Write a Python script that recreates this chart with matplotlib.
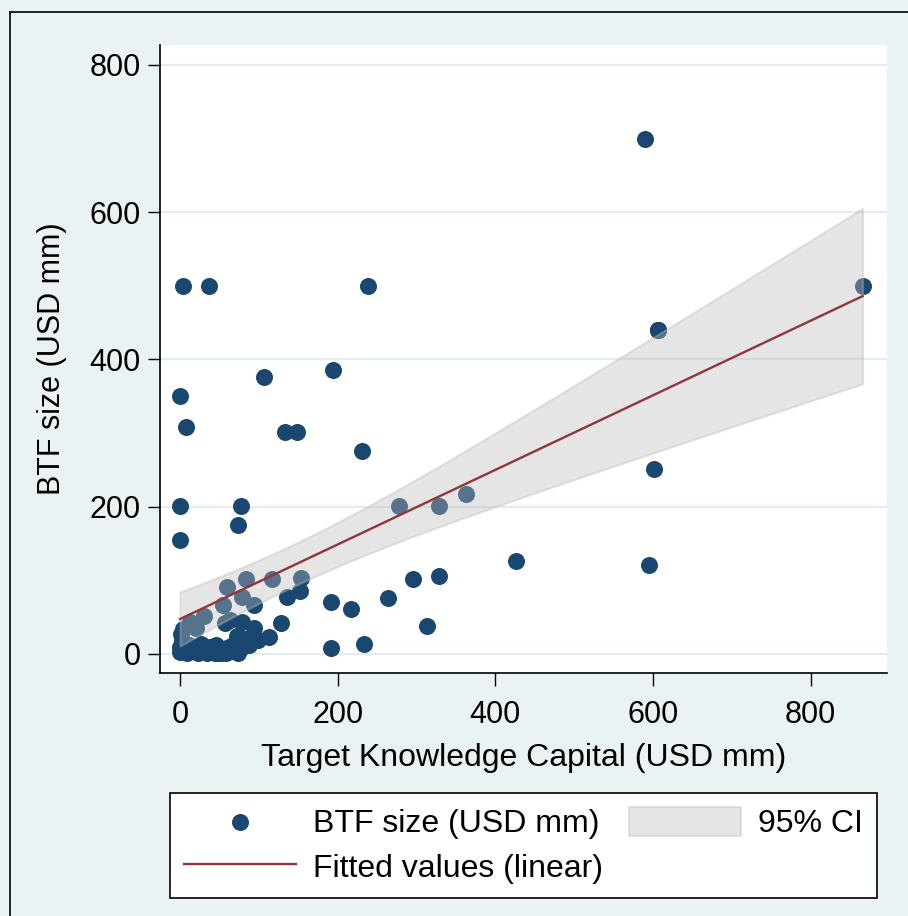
import matplotlib.pyplot as plt
import numpy as np
from matplotlib.lines import Line2D

plt.rcParams['font.family'] = ['Liberation Sans', 'DejaVu Sans']

# knowledge capital (x) and BTF size (y), USD mm
# (the two repeats of 606/440 are assumed hidden overlaps)
kc_outer = [590, 866, 606, 606, 606, 601, 595, 426, 363, 328, 278, 328, 295,
            264, 313, 234, 217, 192, 192, 231, 153, 152, 4, 37, 239, 194,
            107, 0, 8, 133, 148, 0, 77, 74, 0]
btf_outer = [700, 500, 440, 440, 440, 251, 121, 126, 217, 201, 201, 106, 102,
             76, 38, 14, 61, 71, 8, 276, 103, 86, 500, 500, 500, 386,
             376, 350, 308, 301, 301, 201, 201, 175, 155]
kc_cluster = [13, 31, 54, 59, 84, 117, 79, 20,
              57, 79, 94, 113, 128, 94, 136, 63, 99,
              0, 0, 2, 1, 4, 6, 9, 12, 15, 19, 23, 26, 30, 34, 38, 42, 46,
              50, 54, 58, 62, 66, 70, 74, 78, 83, 88, 72, 45, 48, 52, 56]
btf_cluster = [43, 52, 66, 91, 102, 102, 77, 35,
               42, 44, 35, 23, 42, 66, 77, 46, 19,
               3, 10, 18, 27, 34, 6, 1, 12, 4, 8, 2, 14, 5, 1, 9, 4, 12,
               2, 7, 1, 10, 4, 15, 2, 8, 20, 12, 25, 2, 5, 1, 4]

x = np.array(kc_outer + kc_cluster, dtype=float)
y = np.array(btf_outer + btf_cluster, dtype=float)

# linear fit with 95% CI of the mean (like Stata lfitci)
n = len(x)
xbar, ybar = x.mean(), y.mean()
sxx = ((x - xbar) ** 2).sum()
b1 = ((x - xbar) * (y - ybar)).sum() / sxx
b0 = ybar - b1 * xbar
s = np.sqrt(((y - b0 - b1 * x) ** 2).sum() / (n - 2))
t_crit = 1.99
xg = np.linspace(x.min(), x.max(), 200)
yfit = b0 + b1 * xg
se = s * np.sqrt(1 / n + (xg - xbar) ** 2 / sxx)

navy = '#1A476F'
maroon = '#90353B'
bg = '#EAF2F3'

fig = plt.figure(figsize=(9.08, 9.16), dpi=100, facecolor=bg)
ax = fig.add_axes([160 / 908, 1 - 672.7 / 916, 727 / 908, 627.7 / 916])
ax.set_facecolor('white')

sc = ax.scatter(x, y, s=150, color=navy, linewidths=0, zorder=2,
                label='BTF size (USD mm)')
ci = ax.fill_between(xg, yfit - t_crit * se, yfit + t_crit * se,
                     facecolor='#BBBBBB', edgecolor='#BBBBBB', alpha=0.38,
                     lw=1.5, zorder=3, label='95% CI')
ln, = ax.plot(xg, yfit, color=maroon, lw=1.7, zorder=4,
              label='Fitted values (linear)')

ax.set_xlim(-25.4, 897)
ax.set_ylim(-25.4, 827)
ax.set_xticks([0, 200, 400, 600, 800])
ax.set_yticks([0, 200, 400, 600, 800])
ax.grid(axis='y', color='#E3ECEE', lw=1.6, zorder=0)
ax.set_axisbelow(True)
for side in ['top', 'right']:
    ax.spines[side].set_visible(False)
for side in ['left', 'bottom']:
    ax.spines[side].set_linewidth(1.2)
ax.tick_params(length=9, width=1, labelsize=22)
ax.tick_params(axis='x', pad=11)
ax.tick_params(axis='y', pad=5)
ax.set_xlabel('Target Knowledge Capital (USD mm)', fontsize=23, labelpad=9)
ax.set_ylabel('BTF size (USD mm)', fontsize=22, labelpad=16)

leg = fig.legend(handles=[sc, ln, ci], ncol=2, fontsize=23,
                 loc='center', bbox_to_anchor=(170 / 908, 1 - 896 / 916, 707 / 908, 101 / 916),
                 mode='expand', borderaxespad=0, frameon=True, fancybox=False,
                 edgecolor='black', facecolor='white', framealpha=1,
                 handlelength=3.5, handleheight=1.0, labelspacing=0.39,
                 borderpad=0.43, handletextpad=0.56, columnspacing=1.0)
leg.get_frame().set_linewidth(1.2)

# outer border of the graph region
fig.add_artist(Line2D([10 / 908, 10 / 908], [0, 1 - 12 / 916], color='black', lw=1.2))
fig.add_artist(Line2D([10 / 908, 1], [1 - 12 / 916, 1 - 12 / 916], color='black', lw=1.2))

fig.savefig('out.png', dpi=100, facecolor=bg)
